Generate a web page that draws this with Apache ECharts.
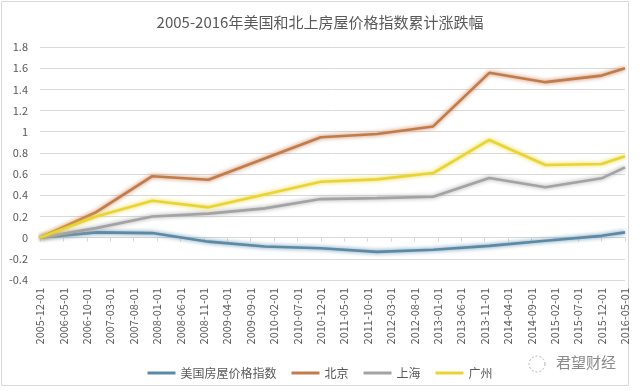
<!DOCTYPE html>
<html>
<head>
<meta charset="utf-8">
<script src="https://cdn.jsdelivr.net/npm/echarts@6/dist/echarts.min.js"></script>
<style>html,body{margin:0;padding:0;background:#fff;}#c{width:640px;height:391px;}</style>
</head>
<body>
<div id="c"></div>
<script>
// Monthly date categories from 2005-12 to 2016-05
var categories = [];
(function(){
  var y = 2005, m = 12;
  while (y < 2016 || (y === 2016 && m <= 5)) {
    categories.push(y + '-' + (m < 10 ? '0' + m : m) + '-01');
    m++; if (m > 12) { m = 1; y++; }
  }
})();

var pointDates = ['2005-12-01','2006-12-01','2007-12-01','2008-12-01','2009-12-01','2010-12-01',
                  '2011-12-01','2012-12-01','2013-12-01','2014-12-01','2015-12-01','2016-05-01'];
var usIndex   = [0, 0.05, 0.043, -0.038, -0.083, -0.10, -0.134, -0.115, -0.078, -0.03, 0.017, 0.05];
var beijing   = [0, 0.24, 0.58, 0.547, 0.747, 0.948, 0.979, 1.05, 1.556, 1.468, 1.53, 1.60];
var shanghai  = [0, 0.09, 0.20, 0.227, 0.276, 0.364, 0.373, 0.386, 0.563, 0.475, 0.56, 0.664];
var guangzhou = [0, 0.20, 0.348, 0.286, 0.407, 0.528, 0.55, 0.61, 0.922, 0.686, 0.695, 0.768];
var seriesNames = ['美国房屋价格指数', '北京', '上海', '广州'];
var yTicks = {min: -0.4, max: 1.8, interval: 0.2};

function pairs(vals){ return pointDates.map(function(d,i){ return [d, vals[i]]; }); }

var colors = ['#5b89a6', '#c27b4b', '#a3a3a3', '#e9d434'];
var font = '"Noto Sans CJK SC", "Noto Sans", sans-serif';
var txt = '#595959';

function mkSeries(name, vals, color){
  return {
    name: name, type: 'line', data: pairs(vals), symbol: 'none', xAxisIndex: 0,
    lineStyle: {width: 2.6, color: color, shadowColor: color, shadowBlur: 4, opacity: 1},
    itemStyle: {color: color}, z: 3
  };
}

var chart = echarts.init(document.getElementById('c'), null, {renderer: 'canvas'});
chart.setOption({
  animation: false,
  backgroundColor: '#fff',
  title: {
    text: '2005-2016年美国和北上房屋价格指数累计涨跌幅',
    left: 'center', top: 10,
    textStyle: {fontFamily: font, fontSize: 15, fontWeight: 'normal', color: txt}
  },
  legend: {
    data: seriesNames, top: 362, left: 'center',
    icon: 'rect', itemWidth: 28, itemHeight: 3, itemGap: 15,
    textStyle: {fontFamily: font, fontSize: 12, color: txt}
  },
  grid: {left: 40, right: 15, top: 47, bottom: 111},
  xAxis: [{
    type: 'category', data: categories, boundaryGap: false,
    axisLine: {show: false, onZero: false}, axisTick: {show: false},
    axisLabel: {interval: 4, rotate: 90, margin: 8, fontSize: 11, color: txt, fontFamily: font}
  }, {
    type: 'category', data: categories, boundaryGap: false, position: 'bottom',
    axisLine: {show: true, onZero: true, lineStyle: {color: '#d9d9d9', width: 1}},
    axisTick: {show: true, interval: 4, length: 4, lineStyle: {color: '#d9d9d9'}},
    axisLabel: {show: false}
  }],
  yAxis: {
    type: 'value', min: yTicks.min, max: yTicks.max, interval: yTicks.interval,
    axisLine: {show: false}, axisTick: {show: false},
    axisLabel: {fontSize: 11, color: txt, fontFamily: font, margin: 12,
      formatter: function(v){ return String(Math.round(v*10)/10); }},
    splitLine: {lineStyle: {color: '#d9d9d9', width: 1}}
  },
  graphic: [
    {type: 'rect', shape: {x: 1.5, y: 1.5, width: 627, height: 384}, style: {fill: 'none', stroke: '#d9d9d9', lineWidth: 1}, silent: true, z: -1},
    {type: 'text', left: 556, top: 355, style: {text: '君望财经', fontFamily: font, fontSize: 15, fill: '#8a8a8a'}},
    {type: 'circle', shape: {cx: 537, cy: 364, r: 8}, style: {fill: 'none', stroke: '#b0b0b0', lineWidth: 1, lineDash: [2, 2]}}
  ],
  series: [
    mkSeries(seriesNames[0], usIndex, colors[0]),
    mkSeries(seriesNames[1], beijing, colors[1]),
    mkSeries(seriesNames[2], shanghai, colors[2]),
    mkSeries(seriesNames[3], guangzhou, colors[3])
  ]
});
</script>
</body>
</html>
